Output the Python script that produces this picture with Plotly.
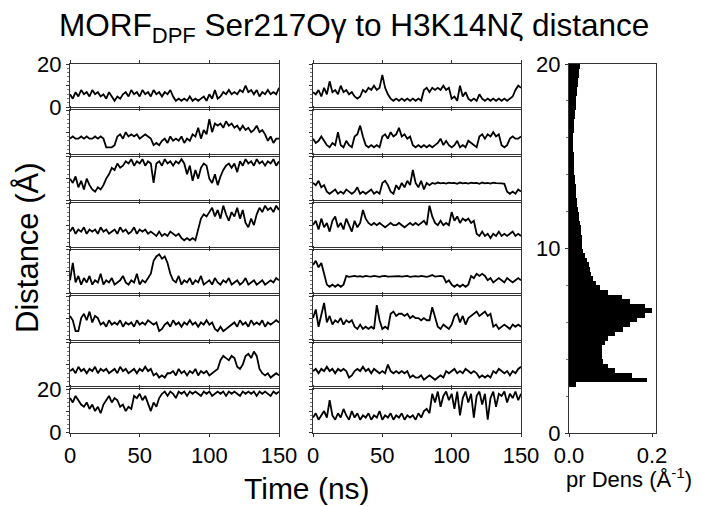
import plotly.graph_objects as go

W, H = 702, 506

time_ns = list(range(0, 151, 2))

L1 = [6,4,7,5,8,6,7,5,8,6,7,5,6,4,7,5,
      3,5,4,6,
      7,5,8,6,7,5,8,6,7,5,8,6,7,5,7,6,8,5,
      3,4,3,4,3,5,3,4,3,4,
      5,3,6,4,8,4,5,
      7,6,8,6,7,6,8,7,10,7,8,6,8,5,7,6,8,6,7,6,9]
L2 = [7,8,7,7,8,7,8,7,7,8,7,8,7,
      3,3,3,4,
      8,9,7,10,8,9,8,9,7,8,9,8,7,
      4,5,4,6,
      7,5,8,6,7,6,8,5,7,6,9,
      8,12,7,11,9,16,10,14,
      13,14,12,15,13,14,12,13,11,13,
      11,12,10,11,13,10,11,9,
      6,8,5,7,7]
L3 = [10,8,11,6,9,5,10,7,
      5,4,6,5,7,
      10,12,15,14,17,15,16,18,
      17,19,16,18,17,19,16,18,17,
      8,17,
      18,16,19,17,18,16,18,17,19,17,
      12,16,9,14,10,15,17,
      16,10,8,12,7,11,14,
      16,17,15,17,13,
      18,16,19,17,18,16,19,17,18,16,18,17,19,16,18]
L4 = [7,9,6,8,7,9,6,8,7,8,6,9,7,8,6,7,8,6,9,7,8,6,7,9,6,8,7,8,6,7,
      6,5,7,5,6,5,7,6,5,6,
      4,3,4,3,4,3,
      8,13,15,14,16,
      18,14,17,13,19,15,12,16,14,18,13,17,11,9,13,10,15,18,16,19,17,18,16,19,17]
L5 = [6,14,5,8,4,7,
      5,8,4,6,5,9,4,6,5,7,4,5,6,8,5,4,6,5,9,4,6,5,7,
      9,15,17,18,16,17,14,9,6,
      5,8,4,6,5,7,4,6,5,8,4,5,6,4,7,5,4,6,5,7,4,5,6,4,5,7,4,5,6,4,5,6,4,5,6,5,7,6]
L6 = [11,9,
      4,4,
      10,12,9,13,8,11,10,
      7,8,6,9,7,8,7,9,6,8,7,8,6,9,7,8,7,9,8,7,8,
      4,5,
      7,8,6,9,7,8,6,8,7,9,7,8,6,8,7,9,7,8,
      5,4,6,4,5,6,
      7,8,6,9,7,8,6,9,7,8,7,9,6,8,7,8,9,8]
L7 = [7,8,6,9,7,8,6,8,7,9,6,8,7,8,6,7,8,6,9,7,8,6,7,8,6,8,7,9,7,8,
      5,6,4,5,4,6,
      6,7,5,8,6,7,5,7,6,8,5,7,6,7,5,6,7,8,
      12,14,13,12,14,13,
      9,8,10,
      14,15,13,16,14,
      8,6,5,6,4,5,6,5]
L8 = [16,14,17,15,13,
      12,14,11,13,10,12,9,13,
      15,17,14,16,15,
      12,13,10,12,11,
      17,16,18,15,17,
      13,10,14,12,16,
      18,19,17,19,18,16,19,18,19,17,19,18,19,18,17,19,18,19,17,18,19,18,19,17,19,18,19,18,17,19,18,19,18,19,17,19,18,19,18,17,19,18,19]

R1 = [7,6,8,5,9,6,12,7,8,6,10,7,8,6,7,
      5,4,5,
      8,7,9,8,10,8,9,
      15,9,6,
      4,3,4,3,4,3,4,3,4,3,4,3,
      8,9,7,9,8,9,8,10,8,9,
      4,5,3,
      10,5,7,
      4,3,4,3,6,4,3,4,3,4,3,4,3,4,3,4,5,
      8,10,9]
R2 = [7,5,6,8,6,
      4,3,5,4,10,4,3,6,4,3,
      8,9,13,8,
      4,3,4,3,4,3,
      8,9,7,10,8,9,12,8,9,7,8,
      4,3,4,3,4,3,4,3,4,
      5,7,4,6,4,
      3,4,6,3,4,3,
      6,5,4,3,
      8,9,7,9,8,10,8,9,
      4,3,4,
      7,8,7,7,8]
R3 = [8,7,9,6,7,
      4,3,4,5,3,4,3,5,4,3,4,6,3,4,3,4,5,3,4,3,
      8,9,7,
      4,3,
      7,5,8,6,9,7,14,8,6,9,5,8,7,
      8,7.6,8.2,7.8,8,7.7,8.1,7.9,8,7.6,8.2,7.8,8,7.7,8.1,7.9,8,7.6,8.2,7.8,8,7.7,8.1,7.9,8,7.8,7.6,
      4,3,4,3,5,4]
R4 = [10,12,8,13,9,11,7,12,14,9,11,8,13,10,7,12,9,11,
      17,13,11,
      10,11,10,11,10,9,10,11,10,10,11,10,9,10,11,10,11,10,11,12,10,
      19,14,
      11,10,12,10,11,10,
      16,12,14,11,13,
      12,13,11,12,
      6,5,7,5,6,4,6,5,7,5,6,5,6,7,5,6,5]
R5 = [13,15,12,14,
      9,
      4,3,4,3,4,3,4,8,
      7.6,7.8,8,7.7,7.9,7.6,8,7.8,7.7,8,7.8,7.6,7.9,8,7.7,7.8,7.6,8,7.9,7.7,7.8,8,7.6,7.8,7.9,7.7,8,7.8,7.6,7.9,8.4,7.7,7.8,8,7.7,
      5,6,4,
      3,4,3,4,3,4,
      8,7,9,8,9,8,
      6,7,5,6,7,6,5,7,6,5,6,7,6]
R6 = [10,14,6,12,17,8,11,7,
      9,8,10,7,9,8,9,
      6,5,7,5,6,5,6,5,
      16,9,
      5,6,5,
      12,13,11,12,12,11,12,10,11,10,10,9,10,9,9,
      15,11,
      6,5,7,6,5,7,
      11,12,8,11,7,10,11,
      12,13,11,12,13,11,12,
      6,7,5,6,7,6,5,7,6,7,6]
R7 = [7,8,6,8,7,9,7,8,6,8,7,8,7,
      4,5,
      7,8,7,9,7,8,6,8,
      7,6,7,6,10,7,6,7,6,7,6,7,
      4,5,4,4,5,3,4,5,4,3,4,5,4,
      7,6,7,8,6,7,6,8,7,6,7,6,
      4,5,4,5,4,
      7,6,8,7,6,7,5,7,6,8,9]
R8 = [7,9,6,8,10,7,15,8,6,9,7,11,8,6,10,7,9,6,8,7,9,6,8,7,10,6,8,7,9,6,8,7,9,6,8,7,8,6,9,7,
      10,11,9,
      18,14,19,12,17,
      19,15,18,11,19,8,16,19,14,18,7,17,19,13,18,6,16,19,12,18,17,19,14,18,16,19,15,18]

left_series = [L1, L2, L3, L4, L5, L6, L7, L8]
right_series = [R1, R2, R3, R4, R5, R6, R7, R8]

# histogram (bin lower edges, width 0.25 A) and probability density
hist_bin_start = [2.5 + 0.25 * i for i in range(70)]
hist_bin_width = 0.25
hist_density = [0.018, 0.187, 0.151, 0.111, 0.095, 0.083, 0.080, 0.079, 0.080, 0.087,
                0.095, 0.111, 0.131, 0.147, 0.163, 0.183, 0.199, 0.183, 0.147, 0.127,
                0.095, 0.075, 0.065, 0.059, 0.053, 0.050, 0.048, 0.043, 0.038, 0.034,
                0.032, 0.031, 0.031, 0.030, 0.029, 0.027, 0.025, 0.023, 0.022, 0.020,
                0.019, 0.018, 0.017, 0.016, 0.015, 0.014, 0.013, 0.012, 0.012, 0.011,
                0.011, 0.010, 0.010, 0.010, 0.010, 0.011, 0.012, 0.013, 0.014, 0.015,
                0.016, 0.017, 0.018, 0.019, 0.020, 0.021, 0.022, 0.023, 0.025, 0.027]

FONT = "Liberation Sans, Arial, sans-serif"
AXC = "#333333"

fig = go.Figure()
layout = {}

top0 = 64.0
ph = 43.3
pitch = 46.49
cols = [(70, 279), (313, 521)]

k = 0
for c, slist in enumerate([left_series, right_series]):
    for r, ys in enumerate(slist):
        k += 1
        sx = "" if k == 1 else str(k)
        fig.add_trace(go.Scatter(x=time_ns, y=ys, mode="lines",
                                 line=dict(color="black", width=1.8),
                                 xaxis="x" + sx, yaxis="y" + sx,
                                 showlegend=False, hoverinfo="skip"))
        t = top0 + r * pitch
        b = t + ph
        x0, x1 = cols[c]
        layout["xaxis" + sx] = dict(
            domain=[x0 / W, x1 / W], anchor="y" + sx, range=[0, 150],
            showline=True, linecolor=AXC, linewidth=1, mirror="ticks",
            ticks="outside", ticklen=3, tickcolor=AXC,
            tickvals=[0, 50, 100, 150], showticklabels=(r == 7),
            tickfont=dict(family=FONT, size=22, color="black"),
            showgrid=False, zeroline=False, fixedrange=True, automargin=False)
        ydict = dict(
            domain=[1 - b / H, 1 - t / H], anchor="x" + sx, range=[0, 20],
            showline=True, linecolor=AXC, linewidth=1, mirror=True,
            ticks="outside", ticklen=3, tickcolor=AXC,
            tickvals=[0, 10, 20],
            minor=dict(ticks="outside", dtick=2, ticklen=2, tickcolor="#777777"),
            showgrid=False, zeroline=False, fixedrange=True, automargin=False,
            tickfont=dict(family=FONT, size=22, color="black"))
        if c == 0 and r in (0, 7):
            ydict["ticktext"] = ["0", "", "20"]
            ydict["showticklabels"] = True
        else:
            ydict["showticklabels"] = False
        layout["yaxis" + sx] = ydict

k += 1
sx = str(k)
centers = [s + hist_bin_width / 2 for s in hist_bin_start]
fig.add_trace(go.Bar(x=hist_density, y=centers, orientation="h", width=hist_bin_width,
                     marker=dict(color="black", line=dict(width=0)),
                     xaxis="x" + sx, yaxis="y" + sx, showlegend=False, hoverinfo="skip"))
layout["xaxis" + sx] = dict(
    domain=[569 / W, 656 / W], anchor="y" + sx, range=[0, 0.2096],
    showline=True, linecolor=AXC, linewidth=1, mirror=True,
    ticks="outside", ticklen=3, tickcolor=AXC,
    tickvals=[0, 0.2], ticktext=["0.0", "0.2"],
    tickfont=dict(family=FONT, size=22, color="black"),
    showgrid=False, zeroline=False, fixedrange=True, automargin=False)
layout["yaxis" + sx] = dict(
    domain=[1 - 433 / H, 1 - 64 / H], anchor="x" + sx, range=[0, 20],
    showline=True, linecolor=AXC, linewidth=1, mirror=True,
    ticks="outside", ticklen=3, tickcolor=AXC, tickvals=[0, 10, 20],
    minor=dict(ticks="outside", dtick=2, ticklen=2, tickcolor="#777777"),
    tickfont=dict(family=FONT, size=22, color="black"),
    showgrid=False, zeroline=False, fixedrange=True, automargin=False)

annotations = [
    dict(text="MORF<sub>DPF</sub> Ser217O\u03b3 to H3K14N\u03b6 distance",
         x=354 / W, y=1 - 27 / H, xref="paper", yref="paper",
         showarrow=False, xanchor="center", yanchor="middle",
         font=dict(family=FONT, size=31.5, color="black")),
    dict(text="Distance (\u00c5)", x=27 / W, y=1 - 248 / H, xref="paper", yref="paper",
         showarrow=False, xanchor="center", yanchor="middle", textangle=-90,
         font=dict(family=FONT, size=31, color="black")),
    dict(text="Time (ns)", x=307 / W, y=1 - 488 / H, xref="paper", yref="paper",
         showarrow=False, xanchor="center", yanchor="middle",
         font=dict(family=FONT, size=30, color="black")),
    dict(text="pr Dens (\u00c5<sup>-1</sup>)", x=629 / W, y=1 - 478 / H,
         xref="paper", yref="paper", showarrow=False,
         xanchor="center", yanchor="middle",
         font=dict(family=FONT, size=22, color="black")),
]

fig.update_layout(
    width=W, height=H, autosize=False,
    margin=dict(l=0, r=0, t=0, b=0, autoexpand=False),
    paper_bgcolor="white", plot_bgcolor="white",
    bargap=0, annotations=annotations, **layout)

fig.write_html("out.html",
               config={"displayModeBar": False, "staticPlot": True},
               post_script="document.body.style.margin='0';document.body.style.padding='0';document.body.style.overflow='hidden';")
